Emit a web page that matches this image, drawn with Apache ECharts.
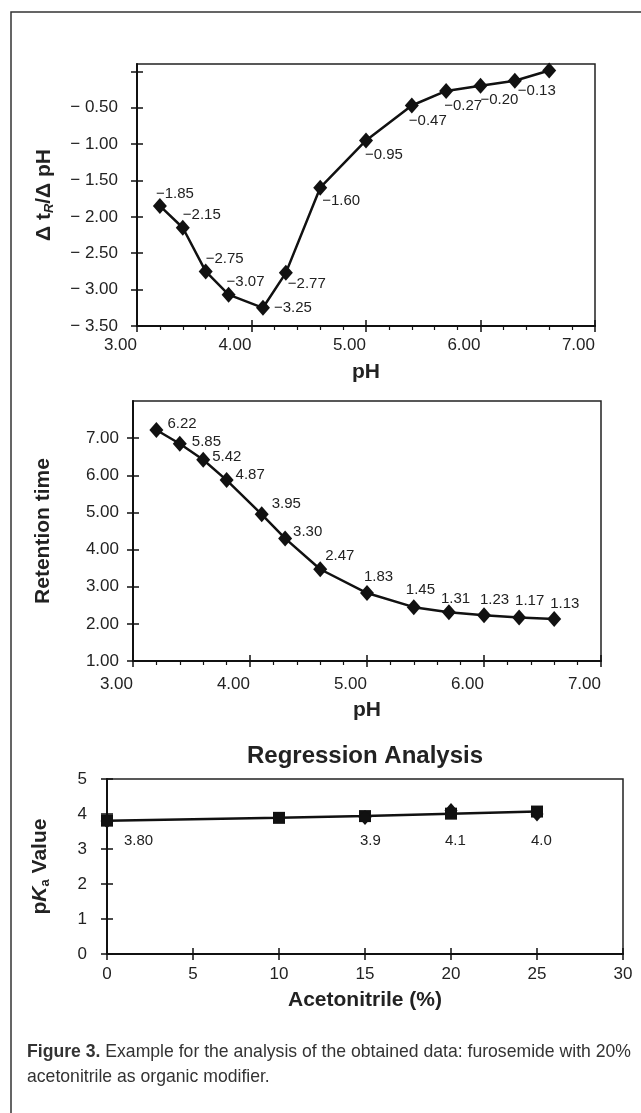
<!DOCTYPE html>
<html><head><meta charset="utf-8">
<script src="https://cdn.jsdelivr.net/npm/echarts@6/dist/echarts.min.js"></script>
<style>html,body{margin:0;padding:0;background:#fff}#c{width:641px;height:1113px}</style>
</head><body><div id="c"></div>
<script>
// ---------------- data ----------------
const phValues = [3.2, 3.4, 3.6, 3.8, 4.1, 4.3, 4.6, 5.0, 5.4, 5.7, 6.0, 6.3, 6.6];
const slopeValues = [-1.85, -2.15, -2.75, -3.07, -3.25, -2.77, -1.60, -0.95, -0.47, -0.27, -0.20, -0.13, 0.01];
const slopeLabels = ['−1.85', '−2.15', '−2.75', '−3.07', '−3.25', '−2.77', '−1.60', '−0.95', '−0.47', '−0.27', '−0.20', '−0.13', ''];
const retentionValues = [7.22, 6.85, 6.42, 5.87, 4.95, 4.30, 3.47, 2.83, 2.45, 2.31, 2.23, 2.17, 2.13];
const retentionLabels = ['6.22', '5.85', '5.42', '4.87', '3.95', '3.30', '2.47', '1.83', '1.45', '1.31', '1.23', '1.17', '1.13'];
const acetonitrileFit = [0, 10, 15, 20, 25];
const pkaFit = [3.81, 3.89, 3.94, 4.01, 4.07];
const acetonitrileMeasured = [0, 15, 20, 25];
const pkaMeasured = [3.80, 3.9, 4.1, 4.0];
const pkaLabels = ['3.80', '3.9', '4.1', '4.0'];
const slopeTicks = [-3.5, -3, -2.5, -2, -1.5, -1, -0.5, 0];
const slopeTickLabels = [-3.5, -3, -2.5, -2, -1.5, -1, -0.5];
const retentionTicks = [1, 2, 3, 4, 5, 6, 7];
const captionBold = 'Figure 3.';
const captionLine1 = ' Example for the analysis of the obtained data: furosemide with 20%';
const captionLine2 = 'acetonitrile as organic modifier.';

// ---------------- styling ----------------
const FONT = '"Liberation Sans", Arial, sans-serif';
const INK = '#111';
const TXT = '#222';
const topLabelOffsets = [[-4,-12],[0,-13],[0,-13],[-2,-13],[11,0],[2,11],[2,13],[-1,14],[-3,15],[-2,15],[0,14],[3,10],[0,0]];
const midLabelOffsets = [[11,-6],[12,-2],[9,-3],[9,-5],[10,-10],[8,-7],[5,-13],[-3,-16],[-8,-17],[-8,-13],[-4,-15],[-4,-17],[-4,-15]];
const botLabelOffsets = [[17,20],[-5,23],[-6,30],[-6,27]];

const grids = [
  {left:137, top:64, width:458, height:262},
  {left:133, top:401, width:468, height:260},
  {left:107, top:779, width:516, height:175}
];

// caption horizontal condensing (reference face is a condensed type)
const CAP_FONT = '"Liberation Sans", Arial, sans-serif';
const capCtx = document.createElement('canvas').getContext('2d');
capCtx.font = 'bold 19px ' + CAP_FONT;
const capW1 = capCtx.measureText(captionBold).width;
capCtx.font = '19px ' + CAP_FONT;
const capW2 = capCtx.measureText(captionLine1).width;
const capScale = 604 / (capW1 + capW2);

function items(xs, ys, labels, offsets) {
  return xs.map((x, i) => ({
    value: [x, ys[i]],
    label: {show: labels[i] !== '', formatter: labels[i], offset: offsets[i]}
  }));
}

const gridOpt = [];
grids.forEach(g => {
  gridOpt.push(Object.assign({show:true, borderColor:'#222', borderWidth:1.5, backgroundColor:'#fff'}, g));
  gridOpt.push(Object.assign({show:false}, g));
});

const axisLbl = (extra) => Object.assign({color:TXT, fontSize:17, fontFamily:FONT}, extra);
const nameStyle = {color:TXT, fontSize:21, fontWeight:'bold', fontFamily:FONT};
const axLine = {onZero:false, lineStyle:{color:INK, width:2}};

function twin(base, gridIndex, customTicks) {
  const t = {type:'value', gridIndex, min:base.min, max:base.max, interval:base.interval,
    axisLine:{show:false, onZero:false}, axisLabel:{show:false}, splitLine:{show:false},
    axisTick:{show:true, inside:true, length:6, lineStyle:{color:INK, width:1.5}}};
  if (customTicks) t.axisTick.customValues = customTicks;
  return t;
}

const xTop = {type:'value', gridIndex:0, min:3, max:7, interval:1,
  name:'pH', nameLocation:'middle', nameGap:36, nameTextStyle:nameStyle,
  axisLine:axLine, splitLine:{show:false},
  axisTick:{length:6, lineStyle:{color:INK, width:1.5}},
  minorTick:{show:true, splitNumber:5, length:4, lineStyle:{color:INK, width:1.2}},
  axisLabel:axisLbl({margin:11, align:'right', formatter:v => v.toFixed(2)})};
const yTop = {type:'value', gridIndex:0, min:-3.5, max:0.1, interval:0.5,
  name:'{b|Δ t}{sub|R}{b|/Δ pH}', nameLocation:'middle', nameGap:81,
  nameTextStyle:Object.assign({}, nameStyle, {rich:{
    b:{fontSize:21, fontWeight:'bold', fontFamily:FONT, color:TXT},
    sub:{fontSize:13, fontWeight:'bold', fontStyle:'italic', fontFamily:FONT, color:TXT, verticalAlign:'bottom', padding:[10,0,0,0]}}}),
  axisLine:axLine, splitLine:{show:false},
  axisTick:{length:6, lineStyle:{color:INK, width:1.5}, customValues:slopeTicks},
  axisLabel:axisLbl({margin:19, customValues:slopeTickLabels, formatter:v => '− ' + Math.abs(v).toFixed(2)})};

const xMid = {type:'value', gridIndex:2, min:3, max:7, interval:1,
  name:'pH', nameLocation:'middle', nameGap:39, nameTextStyle:nameStyle,
  axisLine:axLine, splitLine:{show:false},
  axisTick:{length:6, lineStyle:{color:INK, width:1.5}},
  minorTick:{show:true, splitNumber:5, length:4, lineStyle:{color:INK, width:1.2}},
  axisLabel:axisLbl({margin:15, align:'right', formatter:v => v.toFixed(2)})};
const yMid = {type:'value', gridIndex:2, min:1, max:8, interval:1,
  name:'Retention time', nameLocation:'middle', nameGap:79, nameTextStyle:nameStyle,
  axisLine:axLine, splitLine:{show:false},
  axisTick:{length:6, lineStyle:{color:INK, width:1.5}, customValues:retentionTicks},
  axisLabel:axisLbl({margin:14, customValues:retentionTicks, formatter:v => v.toFixed(2)})};

const xBot = {type:'value', gridIndex:4, min:0, max:30, interval:5,
  name:'Acetonitrile (%)', nameLocation:'middle', nameGap:36, nameTextStyle:nameStyle,
  axisLine:axLine, splitLine:{show:false},
  axisTick:{length:6, lineStyle:{color:INK, width:1.5}},
  axisLabel:axisLbl({margin:12})};
const yBot = {type:'value', gridIndex:4, min:0, max:5, interval:1,
  name:'{b|p}{bi|K}{sub|a}{b| Value}', nameLocation:'middle', nameGap:55,
  nameTextStyle:Object.assign({}, nameStyle, {rich:{
    b:{fontSize:21, fontWeight:'bold', fontFamily:FONT, color:TXT},
    bi:{fontSize:21, fontWeight:'bold', fontStyle:'italic', fontFamily:FONT, color:TXT},
    sub:{fontSize:13, fontWeight:'bold', fontFamily:FONT, color:TXT, verticalAlign:'bottom', padding:[10,0,0,0]}}}),
  axisLine:axLine, splitLine:{show:false},
  axisTick:{length:6, lineStyle:{color:INK, width:1.5}},
  axisLabel:axisLbl({margin:20})};

const dataLabel = {show:true, position:'inside', align:'left', verticalAlign:'middle',
  fontSize:15, color:TXT, fontFamily:FONT, opacity:1};

const option = {
  animation:false,
  backgroundColor:'#fff',
  grid: gridOpt,
  xAxis: [xTop, twin(xTop,1), xMid, twin(xMid,3), xBot, twin(xBot,5)],
  yAxis: [yTop, twin(yTop,1,slopeTicks), yMid, twin(yMid,3,retentionTicks), yBot, twin(yBot,5)],
  series: [
    {type:'line', xAxisIndex:0, yAxisIndex:0, data:items(phValues, slopeValues, slopeLabels, topLabelOffsets),
      symbol:'diamond', symbolSize:[14,16], lineStyle:{color:INK, width:2.5}, itemStyle:{color:INK}, label:dataLabel},
    {type:'line', xAxisIndex:2, yAxisIndex:2, data:items(phValues, retentionValues, retentionLabels, midLabelOffsets),
      symbol:'diamond', symbolSize:[14,16], lineStyle:{color:INK, width:2.5}, itemStyle:{color:INK}, label:dataLabel},
    {type:'line', xAxisIndex:4, yAxisIndex:4, data:acetonitrileFit.map((x,i)=>[x,pkaFit[i]]),
      symbol:'rect', symbolSize:12, lineStyle:{color:INK, width:2.5}, itemStyle:{color:INK}},
    {type:'scatter', xAxisIndex:4, yAxisIndex:4, data:items(acetonitrileMeasured, pkaMeasured, pkaLabels, botLabelOffsets),
      symbol:'diamond', symbolSize:[13,15], itemStyle:{color:INK, opacity:1}, label:dataLabel, z:3}
  ],
  graphic: [
    {type:'rect', silent:true, shape:{x:11, y:12, width:700, height:1200},
      style:{fill:'none', stroke:'#333', lineWidth:1.5}},
    {type:'text', silent:true, x:365, y:756,
      style:{text:'Regression Analysis', align:'center', verticalAlign:'middle',
        fontSize:24, fontWeight:'bold', fontFamily:FONT, fill:TXT}},
    {type:'text', silent:true, x:27, y:1039, scaleX:capScale, originX:0, originY:0,
      style:{text:'{b|' + captionBold + '}{r|' + captionLine1 + '}\n{r|' + captionLine2 + '}',
        fill:'#333', lineHeight:25,
        rich:{
          b:{fontSize:19, fontWeight:'bold', fontFamily:CAP_FONT, fill:'#333', lineHeight:25},
          r:{fontSize:19, fontFamily:CAP_FONT, fill:'#333', lineHeight:25}
        }}}
  ]
};

const chart = echarts.init(document.getElementById('c'), null, {renderer:'canvas'});
chart.setOption(option);
</script>
</body></html>
